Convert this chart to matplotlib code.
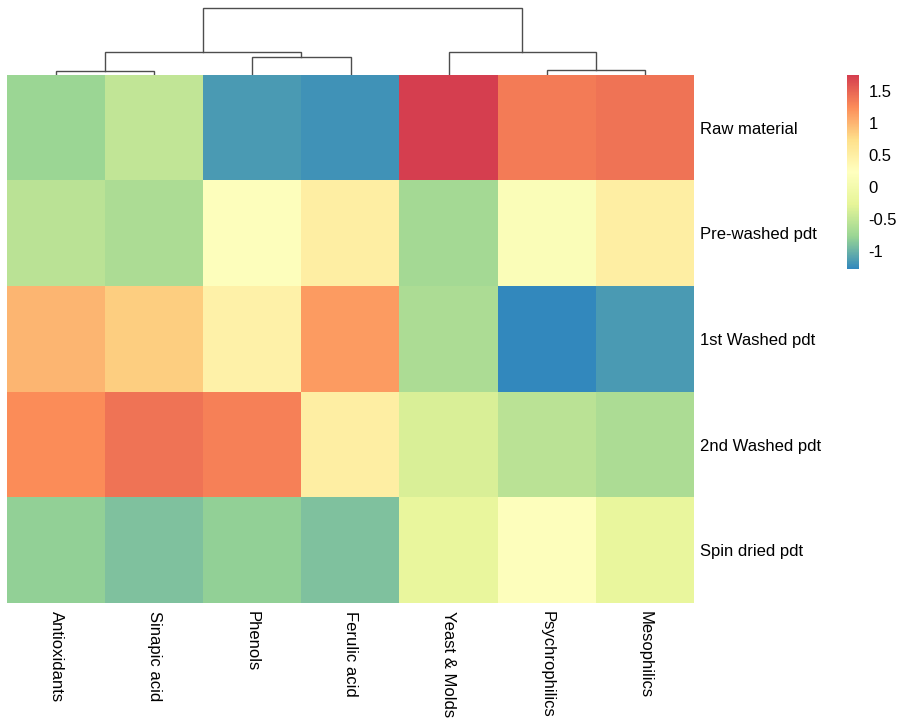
import numpy as np
import matplotlib
matplotlib.use("Agg")
from matplotlib import pyplot as plt
from matplotlib.colors import LinearSegmentedColormap

plt.rcParams['font.family'] = ['Liberation Sans', 'DejaVu Sans']

# column-scaled values, columns already in dendrogram order
samples = ["Raw material", "Pre-washed pdt", "1st Washed pdt", "2nd Washed pdt", "Spin dried pdt"]
measures = ["Antioxidants", "Sinapic acid", "Phenols", "Ferulic acid",
            "Yeast & Molds", "Psychrophilics", "Mesophilics"]

antioxidants = [-0.75, -0.55, 1.0, 1.25, -0.8]
sinapic = [-0.5, -0.65, 0.85, 1.4, -0.9]
phenols = [-1.15, 0.2, 0.45, 1.32, -0.8]
ferulic = [-1.2, 0.5, 1.15, 0.5, -0.9]
yeast = [1.75, -0.7, -0.65, -0.35, -0.2]
psychro = [1.35, 0.15, -1.28, -0.55, 0.2]
meso = [1.4, 0.5, -1.15, -0.65, -0.2]

# column dendrogram: (left, right, height), new nodes numbered from 7
linkage = [(0, 1, 4.0), (5, 6, 5.3), (2, 3, 18.5),
           (7, 9, 23.5), (4, 8, 23.5), (10, 11, 67.5)]

cb_ticks = [-1, -0.5, 0, 0.5, 1, 1.5]

data = np.array([antioxidants, sinapic, phenols, ferulic, yeast, psychro, meso]).T
vmin, vmax = -1.28, 1.75

spectral7 = ["#3288BD", "#99D594", "#E6F598", "#FFFFBF", "#FEE08B", "#FC8D59", "#D53E4F"]
cmap = LinearSegmentedColormap.from_list("spec", spectral7, N=256)

fig = plt.figure(figsize=(8.99, 7.18), dpi=100)
W, H = 899.0, 718.0

def box(x0, y0, x1, y1):
    return [x0 / W, 1 - y1 / H, (x1 - x0) / W, (y1 - y0) / H]

ax = fig.add_axes(box(7, 75, 694, 603))
im = ax.imshow(data, cmap=cmap, vmin=vmin, vmax=vmax, aspect='auto',
               extent=(0, data.shape[1], data.shape[0], 0), interpolation='nearest')
ax.set_xlim(0, data.shape[1])
ax.set_ylim(data.shape[0], 0)
for s in ax.spines.values():
    s.set_visible(False)
ax.set_xticks(np.arange(data.shape[1]) + 0.5)
ax.set_xticklabels(measures, rotation=270, fontsize=12, va='top', ha='center')
ax.set_yticks(np.arange(data.shape[0]) + 0.5)
ax.set_yticklabels(samples, fontsize=12)
ax.yaxis.tick_right()
ax.tick_params(axis='x', length=0, pad=6)
ax.tick_params(axis='y', length=0, pad=4)

# dendrogram on top
dax = fig.add_axes(box(7, 0, 694, 75))
xs = {i: i + 0.5 for i in range(data.shape[1])}
hs = {i: 0.0 for i in range(data.shape[1])}
node = data.shape[1]
for a, b, h in linkage:
    dax.plot([xs[a], xs[a], xs[b], xs[b]], [hs[a], h, h, hs[b]],
             color='#4d4d4d', lw=1.0, solid_joinstyle='miter')
    xs[node] = (xs[a] + xs[b]) / 2
    hs[node] = h
    node += 1
dax.set_xlim(0, data.shape[1])
dax.set_ylim(0, 75)
dax.axis('off')

# colour key
cax = fig.add_axes(box(847, 75, 859, 269))
cb = fig.colorbar(im, cax=cax, ticks=cb_ticks)
cb.outline.set_visible(False)
cb.ax.set_yticklabels(["-1", "-0.5", "0", "0.5", "1", "1.5"])
cb.ax.tick_params(length=0, pad=7, labelsize=12)

fig.savefig("out.png", dpi=100)
